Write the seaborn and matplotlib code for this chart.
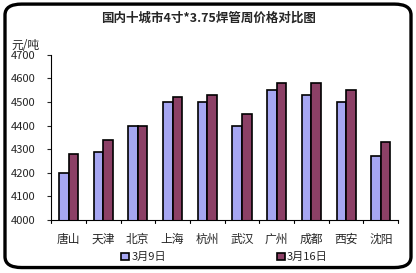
import matplotlib
matplotlib.use("Agg")
import matplotlib.pyplot as plt
from matplotlib.patches import FancyBboxPatch
import seaborn as sns
import pandas as pd

cities = ["唐山", "天津", "北京", "上海", "杭州", "武汉", "广州", "成都", "西安", "沈阳"]
series_names = ["3月9日", "3月16日"]
prices_a = [4200, 4290, 4400, 4500, 4500, 4400, 4550, 4530, 4500, 4270]
prices_b = [4280, 4340, 4400, 4520, 4530, 4450, 4580, 4580, 4550, 4330]
yticks = [4000, 4100, 4200, 4300, 4400, 4500, 4600, 4700]

sns.set_style("white")
plt.rcParams['font.family'] = ['Noto Sans CJK SC', 'DejaVu Sans']

df = pd.DataFrame({
    "city": cities * 2,
    "date": [series_names[0]] * len(cities) + [series_names[1]] * len(cities),
    "price": prices_a + prices_b,
})

fig = plt.figure(figsize=(4.16, 2.73), dpi=100)
fig.patch.set_facecolor("white")
ax = fig.add_axes([0.123, 0.194, 0.834, 0.605])

sns.barplot(data=df, x="city", y="price", hue="date", ax=ax,
            palette=["#9999FF", "#993366"], width=0.55,
            edgecolor="black", linewidth=1.2, legend=True)

ax.set_ylim(4000, 4700)
ax.set_yticks(yticks)
ax.set_yticklabels([str(v) for v in yticks], fontsize=8)
ax.set_xlabel("")
ax.set_ylabel("")
ax.tick_params(axis="x", length=0, labelsize=8.5, pad=9)
ax.tick_params(axis="y", length=3, direction="out", left=True, pad=8)
for i in range(len(cities) + 1):
    ax.plot([i - 0.5, i - 0.5], [0, -0.015], transform=ax.get_xaxis_transform(),
            color="black", lw=0.8, clip_on=False)
ax.set_xlim(-0.5, len(cities) - 0.5)
for s in ["top", "right"]:
    ax.spines[s].set_visible(False)
for s in ["left", "bottom"]:
    ax.spines[s].set_color("black")
    ax.spines[s].set_linewidth(0.8)

leg = ax.legend(loc="upper center", bbox_to_anchor=(0.5, -0.135), ncol=2,
                frameon=False, fontsize=8, handlelength=0.7, handleheight=0.7,
                handletextpad=0.2, columnspacing=10)

fig.text(0.5, 0.935, "国内十城市4寸*3.75焊管周价格对比图", ha="center", va="center",
         fontsize=9, fontweight="bold")
fig.text(0.028, 0.835, "元/吨", ha="left", va="center", fontsize=8.5)

border = FancyBboxPatch((0.012, 0.02), 0.976, 0.965, boxstyle="round,pad=0,rounding_size=0.04",
                        transform=fig.transFigure, fill=False, edgecolor="black", linewidth=2.4)
fig.patches.append(border)

fig.savefig("out.png", dpi=100)
